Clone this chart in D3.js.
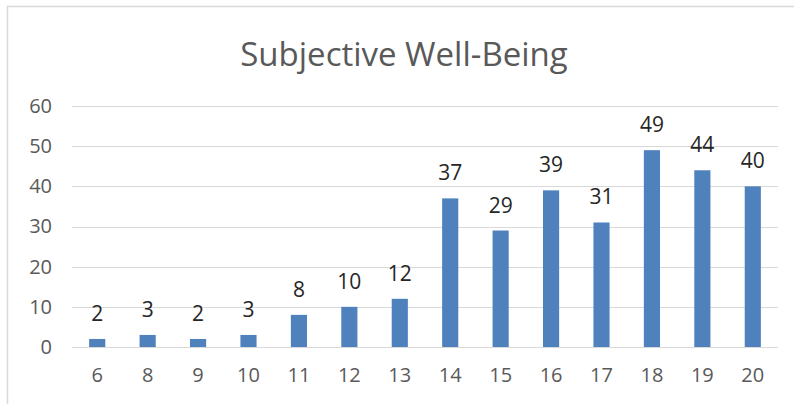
<!DOCTYPE html>
<html>
<head>
<meta charset="utf-8">
<script src="https://cdn.jsdelivr.net/npm/d3@7"></script>
<style>
  html, body { margin: 0; padding: 0; background: #fff; }
  svg { display: block; }
</style>
</head>
<body>
<svg id="chart" width="794" height="404"></svg>
<script>
// Scores and their respondent counts
const categories = ["6", "8", "9", "10", "11", "12", "13", "14", "15", "16", "17", "18", "19", "20"];
const counts = [2, 3, 2, 3, 8, 10, 12, 37, 29, 39, 31, 49, 44, 40];
const yTicks = [0, 10, 20, 30, 40, 50, 60];
const title = "Subjective Well-Being";

const svg = d3.select("#chart");
const W = 794, H = 404;
const plot = { left: 72, right: 778, top: 106, bottom: 347 };
const font = "'Open Sans', 'Noto Sans', sans-serif";

// chart frame (top and left edges visible)
svg.append("path")
  .attr("d", `M7.5,${H} V6.5 H${W}`)
  .attr("fill", "none")
  .attr("stroke", "#d9d9d9")
  .attr("stroke-width", 1.5);

const x = d3.scaleBand()
  .domain(categories)
  .range([plot.left, plot.right])
  .paddingInner(0.68)
  .paddingOuter(0.34);

const y = d3.scaleLinear()
  .domain([0, 60])
  .range([plot.bottom, plot.top]);

// horizontal gridlines
svg.append("g")
  .selectAll("line")
  .data(yTicks)
  .join("line")
  .attr("x1", plot.left)
  .attr("x2", plot.right)
  .attr("y1", d => Math.round(y(d)) + 0.5)
  .attr("y2", d => Math.round(y(d)) + 0.5)
  .attr("stroke", "#d9d9d9")
  .attr("stroke-width", 1);

// y axis labels
const yAxis = svg.append("g")
  .attr("transform", `translate(${plot.left - 20},0)`)
  .call(d3.axisLeft(y).tickValues(yTicks).tickSize(0).tickPadding(0));
yAxis.select(".domain").remove();
yAxis.selectAll("text")
  .style("font-family", font)
  .style("font-size", "20px")
  .attr("fill", "#595959");

// x axis labels
const xAxis = svg.append("g")
  .attr("transform", `translate(0,${plot.bottom + 21})`)
  .call(d3.axisBottom(x).tickSize(0).tickPadding(0));
xAxis.select(".domain").remove();
xAxis.selectAll("text")
  .style("font-family", font)
  .style("font-size", "20px")
  .attr("fill", "#595959");

// bars
svg.append("g")
  .selectAll("rect")
  .data(counts)
  .join("rect")
  .attr("x", (d, i) => x(categories[i]))
  .attr("width", x.bandwidth())
  .attr("y", d => y(d))
  .attr("height", d => y(0) - y(d))
  .attr("fill", "#4f81bd");

// value labels above bars
svg.append("g")
  .selectAll("text")
  .data(counts)
  .join("text")
  .attr("x", (d, i) => x(categories[i]) + x.bandwidth() / 2)
  .attr("y", d => y(d) - 18)
  .attr("text-anchor", "middle")
  .style("font-family", font)
  .style("font-size", "21px")
  .attr("fill", "#262626")
  .text(d => d);

// title
svg.append("text")
  .attr("x", 404)
  .attr("y", 66)
  .attr("text-anchor", "middle")
  .style("font-family", font)
  .style("font-size", "33px")
  .attr("fill", "#595959")
  .text(title);
</script>
</body>
</html>
